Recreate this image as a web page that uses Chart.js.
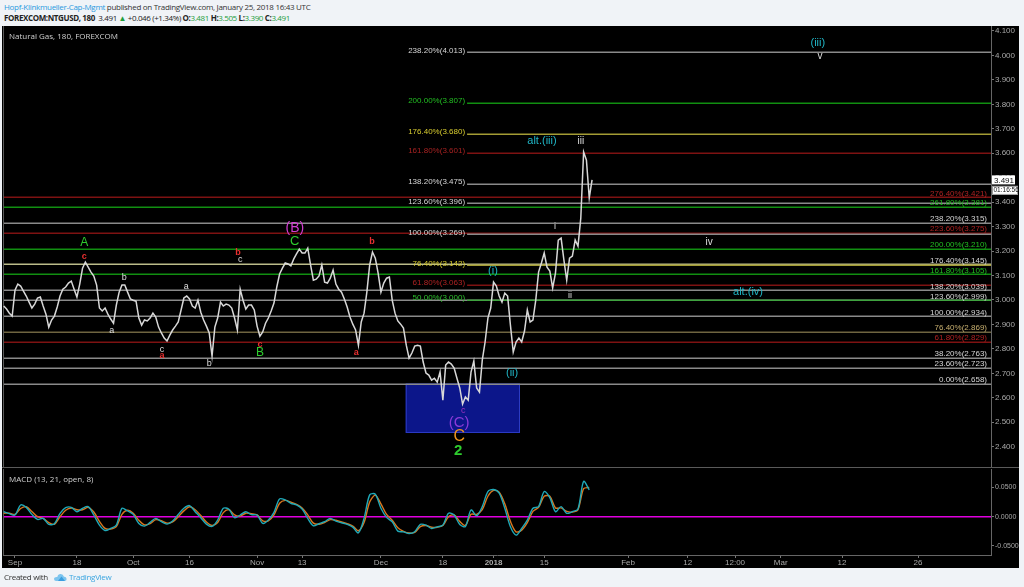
<!DOCTYPE html>
<html>
<head>
<meta charset="utf-8">
<script src="https://cdn.jsdelivr.net/npm/chart.js@4.4.1/dist/chart.umd.min.js"></script>
<style>
body { margin: 0; width: 1024px; height: 587px; overflow: hidden; background: #f0f3f7; position: relative; font-family: "Open Sans", sans-serif; }
#hdr1 { position: absolute; left: 4px; top: 1px; font-size: 8px; color: #333; white-space: nowrap; letter-spacing: -0.3px; }
#hdr2 { position: absolute; left: 4px; top: 12px; font-size: 8px; color: #222; white-space: nowrap; letter-spacing: -0.38px; }
.blue { color: #2a9ae0; }
.g { color: #1e9e3a; }
#board { position: absolute; left: 2px; top: 26px; width: 1017px; height: 542px; background: #000; overflow: hidden; }
#priceCanvas { position: absolute; left: 0; top: 0; }
#macdCanvas { position: absolute; left: 0; top: 443px; }
#sep { position: absolute; left: 0; top: 441px; width: 1017px; height: 1px; background: #5a5a5a; }
#title { position: absolute; left: 7px; top: 4px; font-size: 8px; color: #d0d0d0; }
#macdTitle { position: absolute; left: 7px; top: 447px; font-size: 8px; color: #d0d0d0; }
#foot { position: absolute; left: 4px; top: 571px; font-size: 8px; color: #333; white-space: nowrap; letter-spacing: -0.3px; }
#foot svg { vertical-align: middle; margin: 0 2px 0 5px; }
#foot .tv { color: #3ba5e0; }
</style>
</head>
<body>
<div id="hdr1"><span class="blue">Hopf-Klinkmueller-Cap-Mgmt</span> published on TradingView.com, January 25, 2018 16:43 UTC</div>
<div id="hdr2"><b>FOREXCOM:NTGUSD, 180</b>&nbsp; 3.491 <span class="g">&#9650;</span> +0.046 (+1.34%) <b>O:</b><span class="g">3.481</span> <b>H:</b><span class="g">3.505</span> <b>L:</b><span class="g">3.390</span> <b>C:</b><span class="g">3.491</span></div>
<div id="board">
  <canvas id="priceCanvas" width="1017" height="441"></canvas>
  <div id="sep"></div>
  <canvas id="macdCanvas" width="1017" height="99"></canvas>
  <div id="title">Natural Gas, 180, FOREXCOM</div>
  <div id="macdTitle">MACD (13, 21, open, 8)</div>
</div>
<div id="foot">Created with<svg width="14" height="9" viewBox="0 0 14 9"><path d="M3 8 L11 8 Q14 8 13.5 5.5 Q13 3.5 11 3.8 Q10 0.5 7 1 Q4.5 1.5 4.3 4 Q1 3.8 1 6 Q1.2 8 3 8 Z" fill="#7cc4ee"/><path d="M5 8 L8.5 3.5 L12 8 Z" fill="#3a9ee0"/></svg><span class="tv">TradingView</span></div>

<script>
// x unit = trading days counted from Sep 1 2017 (future part of the axis is calendar spaced)
const dayMin = -2.13;
const dayMax = 173.36;

// 180-minute price trace, sampled twice per trading day
const priceStartDay = -2;
const priceStep = 0.5;
const priceClose = [
  2.975, 2.963, 2.946, 2.934, 3.040, 3.065, 3.057, 3.036, 3.016, 2.991,
  2.967, 2.983, 3.008, 3.012, 2.975, 2.942, 2.889, 2.918, 2.934, 2.971,
  3.016, 3.044, 3.053, 3.069, 3.077, 3.044, 3.012, 3.065, 3.130, 3.155,
  3.134, 3.114, 3.098, 3.061, 2.967, 2.955, 2.967, 2.942, 2.922, 2.905,
  2.979, 3.032, 3.061, 3.061, 3.032, 3.004, 2.999, 2.995, 2.926, 2.897,
  2.918, 2.914, 2.926, 2.946, 2.930, 2.889, 2.865, 2.844, 2.832, 2.856,
  2.877, 2.893, 2.910, 2.959, 3.008, 3.016, 3.004, 2.975, 2.967, 2.999,
  2.950, 2.918, 2.893, 2.865, 2.770, 2.889, 2.926, 2.991, 2.975, 2.983,
  2.979, 2.967, 2.926, 2.877, 3.044, 2.999, 2.963, 2.979, 2.979, 2.959,
  2.893, 2.852, 2.869, 2.905, 2.926, 2.955, 2.987, 3.053, 3.106, 3.130,
  3.151, 3.147, 3.139, 3.167, 3.188, 3.208, 3.192, 3.192, 3.212, 3.143,
  3.081, 3.085, 3.098, 3.143, 3.073, 3.069, 3.089, 3.122, 3.065, 3.044,
  3.032, 3.004, 2.971, 2.930, 2.901, 2.877, 2.815, 2.910, 2.946, 3.032,
  3.143, 3.196, 3.171, 3.110, 3.032, 3.069, 3.089, 3.094, 2.999, 2.946,
  2.914, 2.901, 2.885, 2.815, 2.762, 2.783, 2.811, 2.815, 2.811, 2.746,
  2.701, 2.693, 2.672, 2.680, 2.664, 2.705, 2.590, 2.734, 2.746, 2.738,
  2.721, 2.680, 2.640, 2.574, 2.603, 2.590, 2.705, 2.750, 2.640, 2.623,
  2.754, 2.828, 2.926, 2.967, 3.073, 3.057, 3.016, 2.991, 3.028, 3.016,
  2.897, 2.787, 2.828, 2.844, 2.828, 2.873, 2.959, 2.910, 2.918, 2.999,
  3.114, 3.151, 3.192, 3.134, 3.118, 3.049, 3.110, 3.245, 3.253, 3.163,
  3.081, 3.171, 3.179, 3.245, 3.220, 3.335, 3.605, 3.572, 3.417, 3.491
];
const lastClose = 3.491;
const barCountdown = '01:16:56';

// MACD (13, 21, open, 8), one value per trading day
const macdStartDay = -2;
const macdLine = [
  0.0086, 0.0052, 0.0029, 0.0200, 0.0160, 0.0040, -0.0046, -0.0029, -0.0132, -0.0121,
  0.0058, 0.0155, 0.0161, 0.0086, 0.0144, 0.0173, 0.0029, -0.0144, -0.0236, -0.0201,
  -0.0144, 0.0144, 0.0098, 0.0040, -0.0115, -0.0161, -0.0098, -0.0029, -0.0086, -0.0127,
  -0.0075, 0.0040, 0.0144, 0.0190, 0.0086, -0.0017, -0.0127, -0.0167, -0.0058, 0.0144,
  0.0127, -0.0017, 0.0029, 0.0086, 0.0035, 0.0029, -0.0115, -0.0058, 0.0075, 0.0305,
  0.0288, 0.0230, 0.0201, 0.0132, -0.0029, -0.0155, -0.0121, -0.0086, -0.0029, -0.0075,
  -0.0104, -0.0132, -0.0178, -0.0276, -0.0029, 0.0374, 0.0385, 0.0144, -0.0012, -0.0086,
  -0.0247, -0.0259, -0.0288, -0.0259, -0.0132, -0.0144, -0.0201, -0.0173, -0.0144, 0.0058,
  0.0029, -0.0132, -0.0167, 0.0115, 0.0017, 0.0173, 0.0431, 0.0466, 0.0403, 0.0144,
  -0.0173, -0.0316, -0.0201, -0.0058, 0.0144, 0.0173, 0.0431, 0.0328, 0.0086, 0.0173,
  0.0058, 0.0086, 0.0132, 0.0604, 0.0460
];
const signalLine = [
  0.0060, 0.0060, 0.0040, 0.0140, 0.0170, 0.0090, 0.0000, -0.0030, -0.0100, -0.0130,
  0.0000, 0.0110, 0.0150, 0.0120, 0.0120, 0.0160, 0.0080, -0.0080, -0.0200, -0.0210,
  -0.0170, 0.0040, 0.0110, 0.0060, -0.0060, -0.0140, -0.0120, -0.0050, -0.0070, -0.0110,
  -0.0090, 0.0000, 0.0100, 0.0170, 0.0120, 0.0020, -0.0090, -0.0150, -0.0100, 0.0070,
  0.0120, 0.0030, 0.0010, 0.0060, 0.0050, 0.0030, -0.0070, -0.0070, 0.0030, 0.0230,
  0.0280, 0.0250, 0.0210, 0.0150, 0.0030, -0.0110, -0.0130, -0.0100, -0.0050, -0.0060,
  -0.0090, -0.0120, -0.0160, -0.0240, -0.0100, 0.0250, 0.0370, 0.0220, 0.0040, -0.0060,
  -0.0190, -0.0250, -0.0280, -0.0270, -0.0170, -0.0150, -0.0180, -0.0180, -0.0150, 0.0000,
  0.0030, -0.0080, -0.0150, 0.0040, 0.0040, 0.0120, 0.0350, 0.0450, 0.0420, 0.0220,
  -0.0080, -0.0260, -0.0230, -0.0100, 0.0090, 0.0160, 0.0350, 0.0350, 0.0150, 0.0150,
  0.0090, 0.0080, 0.0120, 0.0480, 0.0500
];

// axes
const priceTicks = [2.4, 2.5, 2.6, 2.7, 2.8, 2.9, 3.0, 3.1, 3.2, 3.3, 3.4, 3.5, 3.6, 3.7, 3.8, 3.9, 4.0, 4.1];
const macdTicks = [-0.05, 0, 0.05];
const timeTickDay = [0, 11, 21, 31, 43, 51, 65, 76, 85, 94, 108.9, 119.5, 127.9, 136, 146.9, 160.4];
const timeTickLabel = ['Sep', '18', 'Oct', '16', 'Nov', '13', 'Dec', '18', '2018', '15', 'Feb', '12', '12:00', 'Mar', '12', '26'];

// fibonacci extension drawn from the December low (labels on the left of the line)
const fibLeftStart = 80.3;
const fibLeftPct = ['238.20%', '200.00%', '176.40%', '161.80%', '138.20%', '123.60%', '100.00%', '76.40%', '61.80%', '50.00%'];
const fibLeftVal = [4.013, 3.807, 3.680, 3.601, 3.475, 3.396, 3.269, 3.142, 3.063, 3.000];
// full width fibonacci levels (labels at the right)
const fibRightPct = ['276.40%', '261.80%', '238.20%', '223.60%', '200.00%', '176.40%', '161.80%', '138.20%', '123.60%', '100.00%', '76.40%', '61.80%', '38.20%', '23.60%', '0.00%'];
const fibRightVal = [3.421, 3.381, 3.315, 3.275, 3.210, 3.145, 3.105, 3.039, 2.999, 2.934, 2.869, 2.829, 2.763, 2.723, 2.658];

// wave 2 target box
const boxDays = [69.4, 89.7];
const boxPrices = [2.658, 2.456];

// Elliott wave labels
const waveText = ['A', 'c', 'b', 'a', 'a', 'c', 'a', 'b', 'b', 'c', 'c', 'B', '(B)', 'C', 'b', 'a', '(i)', '(ii)', 'c', '(C)', 'C', '2', 'i', 'ii', 'alt.(iii)', 'iii', 'iv', 'alt.(iv)', '(iii)', 'v'];
const waveDay = [12.3, 12.3, 19.4, 17.2, 30.4, 26.1, 26.1, 34.5, 39.6, 40.0, 43.5, 43.5, 49.7, 49.7, 63.4, 60.6, 84.9, 88.3, 79.6, 78.9, 78.9, 78.7, 95.9, 98.6, 93.6, 100.5, 123.3, 130.2, 142.6, 143.0];
const wavePrice = [3.233, 3.176, 3.090, 2.877, 3.053, 2.799, 2.771, 2.738, 3.196, 3.167, 2.816, 2.783, 3.294, 3.241, 3.237, 2.783, 3.118, 2.701, 2.546, 2.497, 2.440, 2.382, 3.302, 3.020, 3.650, 3.650, 3.237, 3.033, 4.051, 3.998];

// styles
const GREY = '#8a8a8a', GREEN = '#118f11', RED = '#7e1212', OLIVE = '#a39c34';
const fibLeftLine = [GREY, GREEN, OLIVE, RED, GREY, GREY, GREY, OLIVE, RED, '#3fa33f'];
const fibLeftText = ['#d6d6d6', '#22bf22', '#d8cc30', '#a82222', '#d6d6d6', '#d6d6d6', '#d6d6d6', '#d8cc30', '#b02222', '#2ec02e'];
const fibRightLine = [RED, GREEN, GREY, RED, GREEN, '#bcbc8a', GREEN, GREY, GREY, GREY, '#6e6440', RED, GREY, GREY, GREY];
const fibRightText = ['#b02222', '#22bf22', '#d6d6d6', '#b02222', '#22bf22', '#d6d6d6', '#22bf22', '#d6d6d6', '#d6d6d6', '#d6d6d6', '#c8b070', '#b02222', '#d6d6d6', '#d6d6d6', '#d6d6d6'];
const W = '#dedede', CY = '#20b6c6', RD = '#e83030', GR = '#2ecc2e';
const waveColor = [GR, RD, W, W, W, W, RD, W, RD, W, RD, GR, '#d23cd2', GR, RD, RD, CY, CY, '#a030c0', '#8a3ad8', '#f0961e', GR, W, W, CY, W, W, CY, CY, W];
const waveSize = [12, 9, 9, 9, 9, 9, 9, 9, 9, 9, 9, 12, 14, 13, 9, 9, 11, 11, 9, 15, 16, 15, 9, 9, 11, 10, 10, 11, 11, 10];
const waveBold = [0, 1, 0, 0, 0, 0, 1, 0, 1, 0, 1, 0, 0, 0, 1, 1, 0, 0, 0, 0, 0, 1, 0, 0, 0, 0, 0, 0, 0, 0];

function noMargins(s) {
    s.paddingTop = 0;
    s.paddingBottom = 0;
    s.paddingLeft = 0;
    s.paddingRight = 0;
}

function timeAxis(show) {
    return {
        type: 'linear',
        min: dayMin,
        max: dayMax,
        display: show,
        afterBuildTicks: s => { s.ticks = timeTickDay.map(v => ({ value: v })); },
        afterFit: s => { noMargins(s); s.height = show ? 13 : 0; },
        ticks: {
            autoSkip: false,
            maxRotation: 0,
            padding: 0,
            color: '#a8a8a8',
            font: ctx => ({ family: 'Liberation Sans', size: 8, weight: timeTickLabel[ctx.index] === '2018' ? 'bold' : 'normal' }),
            callback: (v, i) => timeTickLabel[i]
        },
        grid: { drawOnChartArea: false, drawTicks: true, tickLength: 3, color: '#777' },
        border: { display: true, color: '#666' }
    };
}

function valueAxis(min, max, ticks, digits, fontSize) {
    return {
        type: 'linear',
        position: 'right',
        min: min,
        max: max,
        afterBuildTicks: s => { s.ticks = ticks.map(v => ({ value: v })); },
        afterFit: s => { noMargins(s); s.width = 28; },
        ticks: { color: '#a8a8a8', font: { family: 'Liberation Sans', size: fontSize }, padding: 1, callback: v => v.toFixed(digits) },
        grid: { drawOnChartArea: false, drawTicks: true, tickLength: 3, color: '#777' },
        border: { display: true, color: '#666' }
    };
}

function leftBorder(chart) {
    const { ctx, chartArea: a } = chart;
    ctx.save();
    ctx.strokeStyle = '#5a5a5a';
    ctx.lineWidth = 1;
    ctx.beginPath();
    ctx.moveTo(a.left + 0.5, a.top);
    ctx.lineTo(a.left + 0.5, a.bottom);
    ctx.stroke();
    ctx.restore();
}

const priceOverlay = {
    id: 'priceOverlay',
    beforeDatasetsDraw(chart) {
        const { ctx, chartArea: a } = chart;
        const x = chart.scales.x, y = chart.scales.y;
        ctx.save();
        ctx.beginPath();
        ctx.rect(a.left, a.top, a.right - a.left, a.bottom - a.top);
        ctx.clip();

        const bx0 = x.getPixelForValue(boxDays[0]), bx1 = x.getPixelForValue(boxDays[1]);
        const by0 = y.getPixelForValue(boxPrices[0]), by1 = y.getPixelForValue(boxPrices[1]);
        ctx.fillStyle = '#0c168a';
        ctx.fillRect(bx0, by0, bx1 - bx0, by1 - by0);
        ctx.strokeStyle = '#2c3cc4';
        ctx.lineWidth = 1;
        ctx.strokeRect(bx0 + 0.5, by0 + 0.5, bx1 - bx0 - 1, by1 - by0 - 1);

        ctx.lineWidth = 1.5;
        fibRightVal.forEach((v, i) => {
            const py = Math.round(y.getPixelForValue(v)) + 0.25;
            ctx.strokeStyle = fibRightLine[i];
            ctx.beginPath();
            ctx.moveTo(a.left, py);
            ctx.lineTo(a.right, py);
            ctx.stroke();
        });
        const sx = x.getPixelForValue(fibLeftStart);
        fibLeftVal.forEach((v, i) => {
            const py = Math.round(y.getPixelForValue(v)) + 0.25;
            ctx.strokeStyle = fibLeftLine[i];
            ctx.beginPath();
            ctx.moveTo(sx, py);
            ctx.lineTo(a.right, py);
            ctx.stroke();
        });
        ctx.restore();
        leftBorder(chart);
    },
    afterDatasetsDraw(chart) {
        const { ctx, chartArea: a } = chart;
        const x = chart.scales.x, y = chart.scales.y;
        ctx.save();
        ctx.font = '8px "Liberation Sans"';
        ctx.textAlign = 'right';
        ctx.textBaseline = 'alphabetic';
        fibRightVal.forEach((v, i) => {
            ctx.fillStyle = fibRightText[i];
            ctx.fillText(fibRightPct[i] + '(' + v.toFixed(3) + ')', a.right - 4, y.getPixelForValue(v) - 1.5);
        });
        const sx = x.getPixelForValue(fibLeftStart);
        fibLeftVal.forEach((v, i) => {
            ctx.fillStyle = fibLeftText[i];
            ctx.fillText(fibLeftPct[i] + '(' + v.toFixed(3) + ')', sx - 2, y.getPixelForValue(v) + 0.5);
        });

        ctx.textAlign = 'center';
        ctx.textBaseline = 'middle';
        waveText.forEach((t, i) => {
            ctx.font = (waveBold[i] ? 'bold ' : '') + waveSize[i] + 'px "Liberation Sans"';
            ctx.fillStyle = waveColor[i];
            ctx.fillText(t, x.getPixelForValue(waveDay[i]), y.getPixelForValue(wavePrice[i]));
        });
        ctx.restore();
    },
    afterDraw(chart) {
        const { ctx, chartArea: a } = chart;
        const y = chart.scales.y;
        const py = y.getPixelForValue(lastClose);
        ctx.save();
        ctx.fillStyle = '#ffffff';
        ctx.fillRect(a.right + 1, py - 4.5, 23, 9);
        ctx.fillRect(a.right + 1, py + 6, 26, 9);
        ctx.strokeStyle = '#999';
        ctx.strokeRect(a.right + 1.5, py + 6.5, 25, 8);
        ctx.fillStyle = '#111';
        ctx.textAlign = 'left';
        ctx.textBaseline = 'middle';
        ctx.font = '8px "Liberation Sans"';
        ctx.fillText(lastClose.toFixed(3), a.right + 3, py + 0.5);
        ctx.font = '6.5px "Liberation Sans"';
        ctx.fillText(barCountdown, a.right + 2.5, py + 10.5);
        ctx.restore();
    }
};

const macdOverlay = {
    id: 'macdOverlay',
    beforeDatasetsDraw(chart) {
        const { ctx, chartArea: a } = chart;
        const py = chart.scales.y.getPixelForValue(0);
        ctx.save();
        ctx.strokeStyle = '#e000e0';
        ctx.lineWidth = 1.5;
        ctx.beginPath();
        ctx.moveTo(a.left, py);
        ctx.lineTo(a.right, py);
        ctx.stroke();
        ctx.restore();
        leftBorder(chart);
    }
};

new Chart(document.getElementById('priceCanvas'), {
    type: 'line',
    data: {
        datasets: [{
            label: 'NTGUSD',
            data: priceClose.map((v, i) => ({ x: priceStartDay + i * priceStep, y: v })),
            borderColor: '#d8d8d8',
            borderWidth: 1.5,
            pointRadius: 0,
            tension: 0
        }]
    },
    options: {
        responsive: false,
        animation: false,
        layout: { padding: { left: 1, top: 0, right: 0, bottom: 0 } },
        plugins: { legend: { display: false }, tooltip: { enabled: false } },
        scales: {
            x: timeAxis(false),
            y: valueAxis(2.3168, 4.1204, priceTicks, 3, 8)
        }
    },
    plugins: [priceOverlay]
});

new Chart(document.getElementById('macdCanvas'), {
    type: 'line',
    data: {
        datasets: [{
            label: 'MACD',
            data: macdLine.map((v, i) => ({ x: macdStartDay + i, y: v })),
            borderColor: '#1fa9b8',
            borderWidth: 1.4,
            pointRadius: 0,
            tension: 0.3
        }, {
            label: 'Signal',
            data: signalLine.map((v, i) => ({ x: macdStartDay + i, y: v })),
            borderColor: '#d9761e',
            borderWidth: 1.4,
            pointRadius: 0,
            tension: 0.3
        }]
    },
    options: {
        responsive: false,
        animation: false,
        layout: { padding: { left: 1, top: 0, right: 0, bottom: 0 } },
        plugins: { legend: { display: false }, tooltip: { enabled: false } },
        scales: {
            x: timeAxis(true),
            y: valueAxis(-0.0656, 0.0817, macdTicks, 4, 7)
        }
    },
    plugins: [macdOverlay]
});
</script>
</body>
</html>
